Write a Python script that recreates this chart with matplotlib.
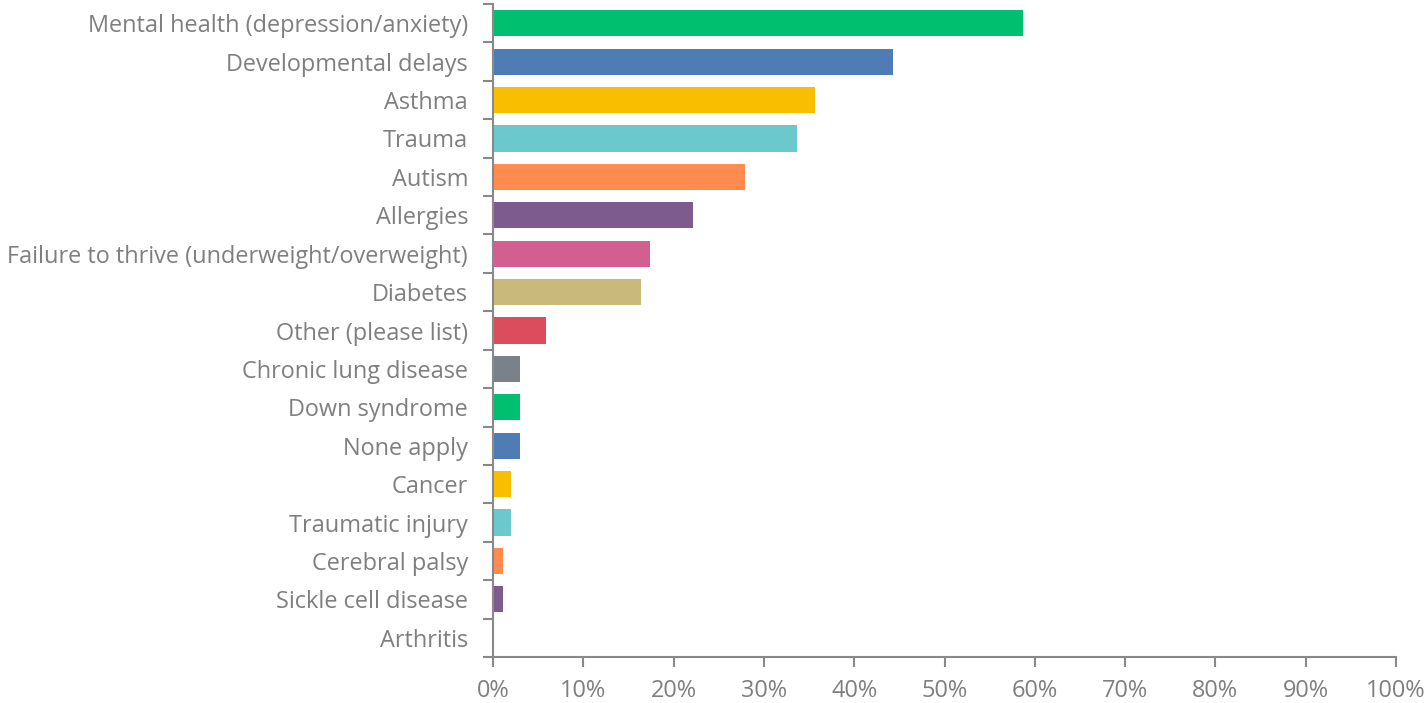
import matplotlib
matplotlib.use("Agg")
import matplotlib.pyplot as plt
from matplotlib.ticker import FixedLocator, PercentFormatter

categories = ["Mental health (depression/anxiety)", "Developmental delays", "Asthma", "Trauma",
              "Autism", "Allergies", "Failure to thrive (underweight/overweight)", "Diabetes",
              "Other (please list)", "Chronic lung disease", "Down syndrome", "None apply",
              "Cancer", "Traumatic injury", "Cerebral palsy", "Sickle cell disease", "Arthritis"]
values = [58.7, 44.3, 35.7, 33.7, 27.9, 22.1, 17.4, 16.4, 5.9, 3.0, 3.0, 3.0, 2.0, 2.0, 1.1, 1.1, 0.0]
colors = ["#00BF6F", "#507CB6", "#F9BE00", "#6BC8CD", "#FF8B4F", "#7D5B8F", "#D25F90", "#C9B97A",
          "#DB4D5C", "#7A8188", "#00BF6F", "#507CB6", "#F9BE00", "#6BC8CD", "#FF8B4F", "#7D5B8F", "#D25F90"]
xticks = list(range(0, 101, 10))

plt.rcParams['font.family'] = ['Open Sans', 'DejaVu Sans']
txt = "#7F7F7F"
spine = "#898989"

fig = plt.figure(figsize=(14.27, 7.03), dpi=100)
ax = fig.add_axes([493/1427, 1 - 657/703, (1396 - 493)/1427, (657 - 4)/703])
y = list(range(len(categories)))
ax.barh(y, values, height=0.68, color=colors)
ax.set_ylim(len(categories) - 0.5, -0.5)
ax.set_xlim(0, 100)
ax.set_yticks(y)
ax.set_yticklabels(categories, fontsize=16.9, color=txt)
ax.yaxis.set_minor_locator(FixedLocator([i - 0.5 for i in range(len(categories) + 1)]))
ax.tick_params(axis='y', which='major', length=0, pad=18)
ax.tick_params(axis='y', which='minor', length=7, width=1.5, color=spine)
ax.set_xticks(xticks)
ax.xaxis.set_major_formatter(PercentFormatter(decimals=0))
ax.tick_params(axis='x', which='major', length=7, width=1.5, color=spine, labelsize=16.9, labelcolor=txt, pad=9)
for s in ['top', 'right']:
    ax.spines[s].set_visible(False)
for s in ['left', 'bottom']:
    ax.spines[s].set_color(spine)
    ax.spines[s].set_linewidth(1.5)
fig.savefig("out.png", dpi=100)
